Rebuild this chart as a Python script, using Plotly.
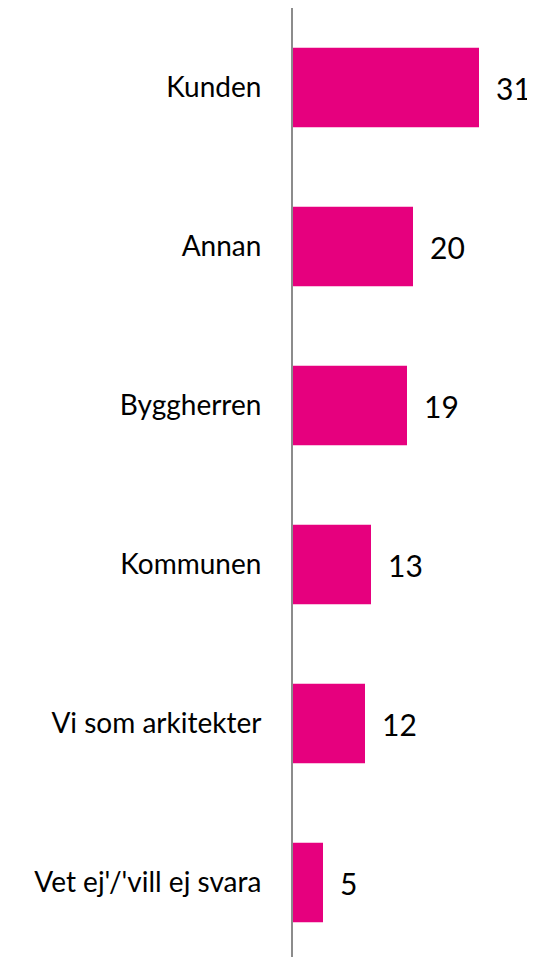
import plotly.graph_objects as go

categories = ["Kunden", "Annan", "Byggherren", "Kommunen", "Vi som arkitekter", "Vet ej'/'vill ej svara"]
values = [31, 20, 19, 13, 12, 5]

BAR_COLOR = "#E6007E"

fig = go.Figure(go.Bar(
    x=values,
    y=categories,
    orientation="h",
    width=0.5,
    marker=dict(color=BAR_COLOR, line=dict(width=0)),
    hoverinfo="x+y",
))

# value labels to the right of each bar
for cat, v in zip(categories, values):
    fig.add_annotation(
        x=v, y=cat, xref="x", yref="y",
        text=str(v), showarrow=False,
        xanchor="left", xshift=15,
        font=dict(size=30, color="black", family="Lato"),
    )

# page body has an 8px margin, so the figure is a bit smaller than the window
fig.update_layout(
    width=527,
    height=949,
    margin=dict(l=285, r=0, t=0, b=0, autoexpand=False),
    plot_bgcolor="white",
    paper_bgcolor="white",
    showlegend=False,
    font=dict(family="Lato", color="black"),
)
fig.update_xaxes(
    range=[0, 242 / 6],
    showgrid=False,
    zeroline=False,
    showticklabels=False,
    showline=False,
    automargin=False,
    fixedrange=True,
)
fig.update_yaxes(
    categoryorder="array",
    categoryarray=categories,
    range=[949 / 159 - 0.5, -0.5],
    showgrid=False,
    zeroline=False,
    showline=True,
    linecolor="#8c8c8c",
    linewidth=2,
    ticks="",
    automargin=False,
    ticklabelstandoff=24,
    tickfont=dict(size=28, color="black", family="Lato"),
)

fig.write_html("out.html")
